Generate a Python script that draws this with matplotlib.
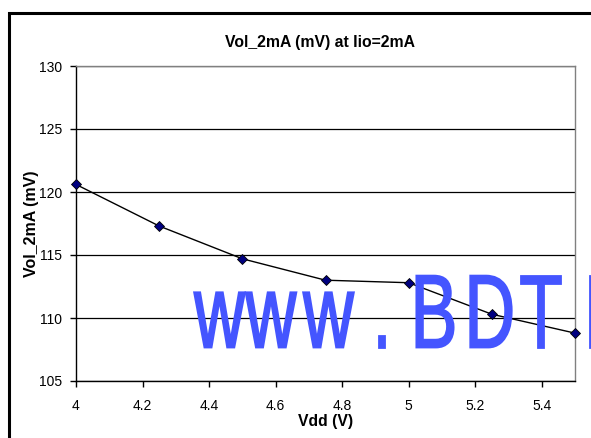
import numpy as np
import matplotlib
matplotlib.use("Agg")
from matplotlib import pyplot as plt
from matplotlib.textpath import TextPath
from matplotlib.patches import PathPatch, Rectangle
from matplotlib.font_manager import FontProperties
from matplotlib.transforms import Affine2D, IdentityTransform

# ======================================================================================================================

vdd = [4.0, 4.25, 4.5, 4.75, 5.0, 5.25, 5.5]
vol_2ma = [120.6, 117.3, 114.7, 113.0, 112.8, 110.3, 108.8]

x_ticks = [4, 4.2, 4.4, 4.6, 4.8, 5, 5.2, 5.4]
x_tick_labels = ["4", "4.2", "4.4", "4.6", "4.8", "5", "5.2", "5.4"]
y_ticks = [105, 110, 115, 120, 125, 130]

TITLE = "Vol_2mA (mV) at Iio=2mA"
XLABEL = "Vdd (V)"
YLABEL = "Vol_2mA (mV)"
WATERMARK = "www.BDTI"

W, H, DPI = 591, 438, 100

# ======================================================================================================================


def watermark(fig):
    """
    Desenha o texto azul, estreito e alto, letra por letra (pixels da figura)
    """
    prop = FontProperties(family="Liberation Sans")
    centers = [219.5, 271.0, 328.5, 382.0, 435.0, 491.0, 541.0, 593.0]
    baseline = H - 347.5
    sx, sy = 70.0, 104.5
    for ch, cx in zip(WATERMARK, centers):
        path = TextPath((0, 0), ch, size=1, prop=prop)
        ext = path.get_extents()
        mid = (ext.x0 + ext.x1) / 2
        tr = Affine2D().translate(-mid, 0).scale(sx, sy).translate(cx, baseline)
        patch = PathPatch(tr.transform_path(path), facecolor="#4455ff", edgecolor="#4455ff",
                          linewidth=1.3, transform=IdentityTransform(), zorder=5)
        fig.patches.append(patch)


def main():
    plt.rcParams["font.family"] = ["Liberation Sans", "DejaVu Sans"]

    fig = plt.figure(figsize=(W / DPI, H / DPI), dpi=DPI)
    ax = fig.add_axes([76 / W, (H - 381) / H, (575 - 76) / W, (381 - 66) / H])

    # moldura externa
    fig.patches.append(Rectangle((9.5 / W, -0.1), 1.2, (H - 12.5) / H + 0.1, transform=fig.transFigure,
                                 fill=False, edgecolor="black", linewidth=2.2))

    ax.plot(vdd, vol_2ma, color="black", linewidth=1.0, marker="D", markersize=5,
            markerfacecolor="#000080", markeredgecolor="black", markeredgewidth=0.6, zorder=6, clip_on=False)

    ax.set_xlim(4, 5.5)
    ax.set_ylim(105, 130)
    ax.set_xticks(x_ticks)
    ax.set_xticklabels(x_tick_labels)
    ax.set_yticks(y_ticks)

    ax.yaxis.grid(True, color="black", linewidth=0.9)
    ax.set_axisbelow(True)

    for side in ["top", "right"]:
        ax.spines[side].set_color("#808080")
        ax.spines[side].set_linewidth(1.0)
    for side in ["left", "bottom"]:
        ax.spines[side].set_color("black")
        ax.spines[side].set_linewidth(1.0)

    ax.tick_params(direction="out", length=4, width=1.0, labelsize=10)
    ax.tick_params(axis="x", pad=9)
    ax.tick_params(axis="y", pad=6)

    ax.set_title(TITLE, fontsize=11.3, fontweight="bold", pad=14, x=0.488)
    ax.set_xlabel(XLABEL, fontsize=11.3, fontweight="bold", labelpad=1)
    ax.set_ylabel(YLABEL, fontsize=11.5, fontweight="bold", labelpad=0)

    watermark(fig)

    fig.savefig("out.png", dpi=DPI)


if __name__ == "__main__":
    main()

# ======================================================================================================================
